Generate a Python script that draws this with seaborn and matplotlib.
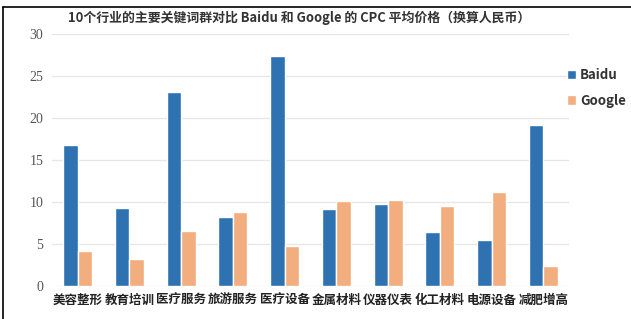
from matplotlib import pyplot as plt
from matplotlib.lines import Line2D
import seaborn as sns
import pandas as pd

industries = ['美容整形', '教育培训', '医疗服务', '旅游服务', '医疗设备',
              '金属材料', '仪器仪表', '化工材料', '电源设备', '减肥增高']
baidu  = [16.8, 9.3, 23.1, 8.2, 27.4, 9.2, 9.8, 6.4, 5.5, 19.2]
google = [4.2, 3.2, 6.5, 8.8, 4.7, 10.1, 10.2, 9.5, 11.2, 2.4]
engines = ['Baidu', 'Google']

df = pd.DataFrame({'industry': industries * 2,
                   'engine': ['Baidu'] * len(industries) + ['Google'] * len(industries),
                   'cpc': baidu + google})

sns.set_style('white')
plt.rcParams['font.family'] = ['Noto Sans CJK SC', 'DejaVu Sans']

fig = plt.figure(figsize=(6.31, 3.19), dpi=100)
ax = fig.add_axes([0.082, 0.104, 0.82, 0.789])

pal = {'Baidu': '#2e72b2', 'Google': '#f2ae7e'}
sns.barplot(data=df, x='industry', y='cpc', hue='engine', hue_order=engines,
            palette=pal, width=0.56, saturation=1, errorbar=None, ax=ax, zorder=2)

ax.set_ylim(0, 30)
ax.set_yticks(range(0, 31, 5))
ax.set_xlabel('')
ax.set_ylabel('')
ax.grid(axis='y', color='#e6e6e6', linewidth=0.9, zorder=0)
ax.set_axisbelow(True)
for s in ax.spines.values():
    s.set_visible(False)
ax.tick_params(axis='y', length=0, labelsize=10, labelcolor='#555555', pad=6)
ax.tick_params(axis='x', length=0, labelsize=9, labelcolor='#222222', pad=6)
for lbl in ax.get_xticklabels():
    lbl.set_fontweight('bold')
for lbl in ax.get_yticklabels():
    lbl.set_family(['Liberation Serif', 'DejaVu Serif'])

leg = ax.legend(loc='upper left', bbox_to_anchor=(0.98, 0.895), frameon=False,
                handlelength=0.7, handleheight=0.7, handletextpad=0.3,
                labelspacing=0.85, borderaxespad=0.2,
                prop={'size': 9.5, 'weight': 'bold'})
for t in leg.get_texts():
    t.set_color('#333333')

fig.text(0.474, 0.945, '10个行业的主要关键词群对比 Baidu 和 Google 的 CPC 平均价格（换算人民币）',
         ha='center', va='center', fontsize=9.3, fontweight='bold', color='#333333')

# thin frame on the left and top edges
fig.add_artist(Line2D([0.004, 0.004], [0, 0.978], color='black', linewidth=1.2))
fig.add_artist(Line2D([0.004, 1.0], [0.978, 0.978], color='black', linewidth=1.2))

fig.savefig('out.png', dpi=100)
